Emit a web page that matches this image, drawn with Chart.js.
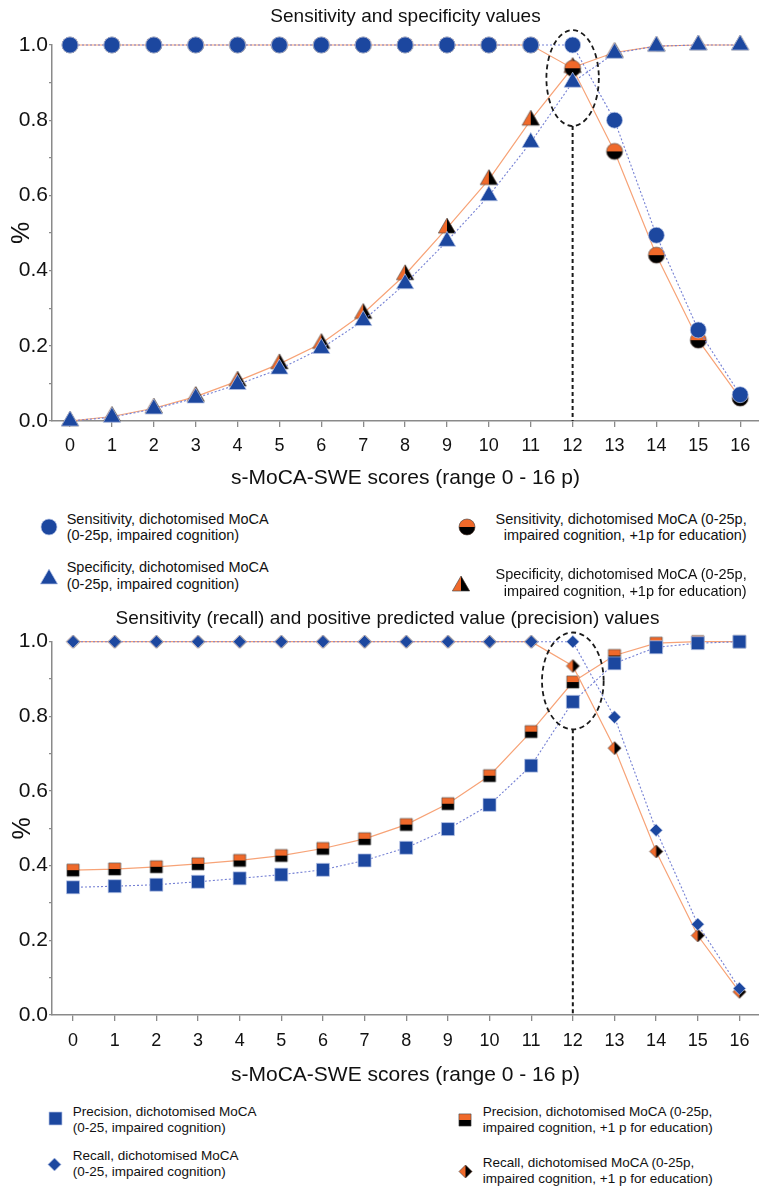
<!DOCTYPE html>
<html>
<head>
<meta charset="utf-8">
<script src="https://cdn.jsdelivr.net/npm/chart.js@4.4.0/dist/chart.umd.min.js"></script>
<style>
html,body{margin:0;padding:0;background:#fff;}
body{width:759px;height:1188px;position:relative;overflow:hidden;font-family:"Liberation Sans",Arial,sans-serif;color:#111;}
canvas.chart{position:absolute;left:0;}
.lg{position:absolute;white-space:nowrap;}
.mk{position:absolute;}
</style>
</head>
<body>
<canvas id="c1" class="chart" width="759" height="500" style="top:0px;width:759px;height:500px"></canvas>
<canvas id="c2" class="chart" width="759" height="497" style="top:597px;width:759px;height:497px"></canvas>
<div id="legends"></div>
<script>
// ---------------- data ----------------
const scores = [0,1,2,3,4,5,6,7,8,9,10,11,12,13,14,15,16];
const xTickLabels = ['0','1','2','3','4','5','6','7','8','9','10','11','12','13','14','15','16'];
const yTickLabels = ['0.0','0.2','0.4','0.6','0.8','1.0'];

const title1 = 'Sensitivity and specificity values';
const title2 = 'Sensitivity (recall) and positive predicted value (precision) values';
const xTitle = 's-MoCA-SWE scores (range 0 - 16 p)';
const yTitle = '%';

const sensitivity    = [1,1,1,1,1,1,1,1,1,1,1,1,1,0.800,0.494,0.242,0.070];
const specificity    = [0,0.010,0.032,0.061,0.097,0.138,0.193,0.267,0.365,0.478,0.599,0.741,0.901,0.978,0.997,1,1];
const sensitivityEdu = [1,1,1,1,1,1,1,1,1,1,1,1,0.938,0.717,0.441,0.215,0.061];
const specificityEdu = [0,0.012,0.034,0.065,0.106,0.152,0.206,0.286,0.389,0.513,0.642,0.800,0.940,0.980,0.997,1,1];

const precision      = [0.342,0.345,0.349,0.357,0.366,0.376,0.389,0.414,0.448,0.498,0.563,0.668,0.839,0.942,0.985,0.996,1];
const recall         = [1,1,1,1,1,1,1,1,1,1,1,1,1,0.798,0.495,0.243,0.071];
const precisionEdu   = [0.388,0.391,0.397,0.405,0.414,0.427,0.446,0.472,0.510,0.566,0.641,0.759,0.892,0.963,0.996,1,1];
const recallEdu      = [1,1,1,1,1,1,1,1,1,1,1,1,0.935,0.715,0.438,0.213,0.062];

const legendSens     = ['Sensitivity, dichotomised MoCA', '(0-25p, impaired cognition)'];
const legendSpec     = ['Specificity, dichotomised MoCA', '(0-25p, impaired cognition)'];
const legendSensEdu  = ['Sensitivity, dichotomised MoCA (0-25p,', 'impaired cognition, +1p for education)'];
const legendSpecEdu  = ['Specificity, dichotomised MoCA (0-25p,', 'impaired cognition, +1p for education)'];
const legendPrec     = ['Precision, dichotomised MoCA', '(0-25, impaired cognition)'];
const legendRec      = ['Recall, dichotomised MoCA', '(0-25, impaired cognition)'];
const legendPrecEdu  = ['Precision, dichotomised MoCA (0-25p,', 'impaired cognition, +1 p for education)'];
const legendRecEdu   = ['Recall, dichotomised MoCA (0-25p,', 'impaired cognition, +1 p for education)'];

// highlighted cut-off (score 12)
const cutoffScore = 12;

// ---------------- styles ----------------
const BLUE = '#1c479f';
const ORANGE = '#f0692a';
const BLUE_LINE = '#7580d4';
const ORANGE_LINE = '#f7a377';
const AXIS = '#8a8a8a';
const TXT = '#111';
Chart.defaults.font.family = '"Liberation Sans", Arial, sans-serif';
Chart.defaults.color = TXT;

function shapePath(ctx, shape, cx, cy, r) {
  ctx.beginPath();
  if (shape === 'circle') {
    ctx.arc(cx, cy, r, 0, Math.PI * 2);
  } else if (shape === 'triangle') {
    ctx.moveTo(cx, cy - r);
    ctx.lineTo(cx + r * 0.866, cy + r / 2);
    ctx.lineTo(cx - r * 0.866, cy + r / 2);
  } else if (shape === 'rect') {
    const s = 2 * r * Math.SQRT1_2;
    ctx.rect(cx - s / 2, cy - s / 2, s, s);
  } else if (shape === 'rectRot') {
    ctx.moveTo(cx, cy - r);
    ctx.lineTo(cx + r, cy);
    ctx.lineTo(cx, cy + r);
    ctx.lineTo(cx - r, cy);
  }
  ctx.closePath();
}

function makeMarker(shape, r, half) {
  const pad = 2;
  const S = Math.ceil(2 * r + 2 * pad);
  const c = document.createElement('canvas');
  c.width = S; c.height = S;
  const ctx = c.getContext('2d');
  const cx = S / 2, cy = S / 2;
  shapePath(ctx, shape, cx, cy, r);
  if (!half) {
    ctx.fillStyle = BLUE; ctx.fill();
    ctx.strokeStyle = 'rgba(185,198,232,0.9)'; ctx.lineWidth = 0.8; ctx.stroke();
    return c;
  }
  ctx.save();
  ctx.clip();
  ctx.fillStyle = ORANGE; ctx.fillRect(0, 0, S, S);
  ctx.fillStyle = '#000';
  if (shape === 'triangle' || shape === 'rectRot') ctx.fillRect(cx, 0, S, S);
  else ctx.fillRect(0, cy, S, S);
  ctx.restore();
  shapePath(ctx, shape, cx, cy, r);
  ctx.strokeStyle = 'rgba(70,70,70,0.9)'; ctx.lineWidth = 0.7; ctx.stroke();
  return c;
}

const pts = arr => scores.map((s, i) => ({x: s, y: arr[i]}));

function blueSet(label, arr, style, radius) {
  return {
    label, data: pts(arr), pointStyle: style, pointRadius: radius, pointHoverRadius: radius,
    pointBackgroundColor: BLUE, pointBorderColor: 'rgba(185,198,232,0.9)', pointBorderWidth: 0.8,
    borderColor: BLUE_LINE, borderWidth: 1.1, borderDash: [2, 2], tension: 0, clip: false, fill: false
  };
}
function halfSet(label, arr, shape, radius) {
  const img = makeMarker(shape, radius, true);
  return {
    label, data: pts(arr), pointStyle: img, pointRadius: radius, pointHoverRadius: radius,
    borderColor: ORANGE_LINE, borderWidth: 1.2, tension: 0, clip: false, fill: false
  };
}

const focusPlugin = {
  id: 'focus',
  afterDatasetsDraw(chart, args, o) {
    const {ctx} = chart;
    const xs = chart.scales.x, ys = chart.scales.y;
    const cx = xs.getPixelForValue(o.x);
    const cy = ys.getPixelForValue(o.cy);
    const rx = Math.abs(xs.getPixelForValue(o.x + o.rx) - cx);
    const ry = Math.abs(ys.getPixelForValue(o.cy + o.ry) - cy);
    ctx.save();
    ctx.strokeStyle = '#1a1a1a';
    ctx.lineWidth = 1.8;
    ctx.setLineDash([5, 3.5]);
    ctx.beginPath();
    ctx.ellipse(cx, cy, rx, ry, 0, 0, Math.PI * 2);
    ctx.stroke();
    ctx.lineWidth = 2;
    ctx.setLineDash([4, 3]);
    ctx.beginPath();
    ctx.moveTo(cx, cy + ry);
    ctx.lineTo(cx, ys.getPixelForValue(0));
    ctx.stroke();
    ctx.restore();
  }
};

function makeChart(id, title, datasets, L) {
  return new Chart(document.getElementById(id), {
    type: 'line',
    data: {datasets},
    plugins: [focusPlugin],
    options: {
      responsive: false, animation: false, devicePixelRatio: 1,
      layout: {autoPadding: false, padding: {left: L.padLeft, right: 0, top: 0, bottom: 0}},
      plugins: {
        legend: {display: false},
        tooltip: {enabled: false},
        title: {display: true, text: title, color: TXT, fullSize: L.fullSize,
          font: {size: 19, weight: 'normal'}, padding: {top: L.titleTop, bottom: L.titleBottom}},
        focus: L.focus
      },
      scales: {
        x: {
          type: 'linear', min: L.xMin, max: L.xMax,
          afterBuildTicks: s => { s.ticks = scores.map(v => ({value: v})); },
          afterFit: s => { s.height = L.xHeight; s.paddingLeft = 0; s.paddingRight = 0; },
          ticks: {callback: (v, i) => xTickLabels[i], font: {size: 18}, color: TXT,
            padding: L.xTickPad, maxRotation: 0, autoSkip: false},
          grid: {drawOnChartArea: false, drawTicks: true, tickLength: 6, color: AXIS, lineWidth: 1.3},
          border: {color: AXIS, width: 1.5},
          title: {display: true, text: xTitle, color: TXT, font: {size: 21}, padding: {top: 0, bottom: L.xTitlePad}}
        },
        y: {
          min: 0, max: 1,
          afterFit: s => { s.width = L.yWidth; s.paddingTop = 0; s.paddingBottom = 0; },
          ticks: {stepSize: 0.1, autoSkip: false, padding: 1, color: TXT, font: {size: 21},
            callback: (v, i) => (i % 2 === 0 ? yTickLabels[i / 2] : '')},
          grid: {drawOnChartArea: false, drawTicks: true, tickLength: 3, color: AXIS, lineWidth: 1.2},
          border: {color: AXIS, width: 1.5},
          title: {display: true, text: yTitle, color: TXT, font: {size: 25}, padding: {top: L.yTitlePad, bottom: 0}}
        }
      }
    }
  });
}

makeChart('c1', title1, [
  blueSet(legendSens.join(' '), sensitivity, 'circle', 8),
  blueSet(legendSpec.join(' '), specificity, 'triangle', 10),
  halfSet(legendSensEdu.join(' '), sensitivityEdu, 'circle', 8),
  halfSet(legendSpecEdu.join(' '), specificityEdu, 'triangle', 10)
], {padLeft: 0, fullSize: false, titleTop: 5.2, titleBottom: 17, xHeight: 79, xTickPad: 8,
    xTitlePad: 9, yWidth: 52, yTitlePad: 6.7, xMin: -0.43, xMax: 16.45,
    focus: {x: cutoffScore, cy: 0.912, rx: 0.626, ry: 0.1275}});

makeChart('c2', title2, [
  blueSet(legendRec.join(' '), recall, 'rectRot', 6.3),
  blueSet(legendPrec.join(' '), precision, 'rect', 9.2),
  halfSet(legendRecEdu.join(' '), recallEdu, 'rectRot', 6.5),
  halfSet(legendPrecEdu.join(' '), precisionEdu, 'rect', 8.6)
], {padLeft: 16, fullSize: true, titleTop: 10.5, titleBottom: 11.4, xHeight: 79, xTickPad: 9,
    xTitlePad: 6.4, yWidth: 36, yTitlePad: -7.7, xMin: -0.505, xMax: 16.47,
    focus: {x: cutoffScore, cy: 0.895, rx: 0.74, ry: 0.1297}});

// ---------------- HTML legends ----------------
const legendHost = document.getElementById('legends');
function addMarker(shape, r, half, cx, cy) {
  const c = makeMarker(shape, r, half);
  c.className = 'mk';
  c.style.left = (cx - c.width / 2) + 'px';
  c.style.top = (cy - c.height / 2) + 'px';
  legendHost.appendChild(c);
}
function addText(lines, pos, size, lh) {
  const d = document.createElement('div');
  d.className = 'lg';
  d.style.fontSize = size + 'px';
  d.style.lineHeight = lh + 'px';
  d.style.top = pos.top + 'px';
  if (pos.right !== undefined) { d.style.right = pos.right + 'px'; d.style.textAlign = 'right'; }
  else d.style.left = pos.left + 'px';
  lines.forEach((t, i) => { if (i) d.appendChild(document.createElement('br')); d.appendChild(document.createTextNode(t)); });
  legendHost.appendChild(d);
}

addMarker('circle', 8, false, 49.3, 526.7);
addText(legendSens, {left: 66.7, top: 510.7}, 14.5, 16.7);
addMarker('triangle', 10, false, 49, 579);
addText(legendSpec, {left: 66.7, top: 559.3}, 14.5, 16.7);
addMarker('circle', 8, true, 467.3, 527.3);
addText(legendSensEdu, {right: 12.3, top: 510.7}, 14.5, 16.7);
addMarker('triangle', 10, true, 460.7, 585.5);
addText(legendSpecEdu, {right: 12.3, top: 566}, 14.5, 16.7);

addMarker('rect', 9.2, false, 55, 1118.3);
addText(legendPrec, {left: 72.7, top: 1103.8}, 13.5, 15.8);
addMarker('rectRot', 6.5, false, 54.3, 1164.3);
addText(legendRec, {left: 72.7, top: 1148.1}, 13.5, 15.8);
addMarker('rect', 8.6, true, 465, 1120);
addText(legendPrecEdu, {left: 482.7, top: 1103.8}, 13.5, 15.8);
addMarker('rectRot', 6.5, true, 465, 1171.7);
addText(legendRecEdu, {left: 482.7, top: 1155.4}, 13.5, 15.8);
</script>
</body>
</html>
